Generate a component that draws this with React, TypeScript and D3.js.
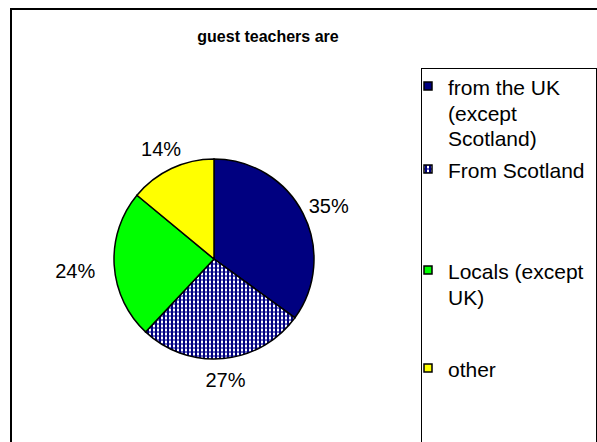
import React from "react";
import * as d3 from "d3";

const categories = ["from the UK (except Scotland)", "From Scotland", "Locals (except UK)", "other"];
const values = [35, 27, 24, 14];
const labels = ["35%", "27%", "24%", "14%"];
const legendLines = [["from the UK", "(except", "Scotland)"], ["From Scotland"], ["Locals (except", "UK)"], ["other"]];
const colors = ["#000080", "url(#chk)", "#00ff00", "#ffff00"];

// layout (not data)
const legendBaseline = [95, 178, 279, 377];
const labelNudge: [number, number][] = [[6, 2], [0, 0], [-17, 4], [-1, 0]];

export default function App() {
  const W = 597, H = 442;
  const cx = 214, cy = 259, r = 100;
  const pie = d3.pie<number>().sort(null).value((d) => d);
  const arcs = pie(values);
  const arc = d3.arc<d3.PieArcDatum<number>>().innerRadius(0).outerRadius(r);
  const labelArc = d3.arc<d3.PieArcDatum<number>>().innerRadius(r + 22).outerRadius(r + 22);
  const font = "'Liberation Sans', Arial, sans-serif";
  const fs = 21;
  return (
    <svg width={W} height={H} style={{ position: "absolute", left: 0, top: 0 }} fontFamily={font}>
      <defs>
        <pattern id="chk" width={4} height={4} patternUnits="userSpaceOnUse">
          <rect width={4} height={4} fill="#ffffff" />
          <rect x={0} y={0} width={4} height={2} fill="#7070c0" />
          <rect x={1} y={0} width={2} height={4} fill="#000080" />
        </pattern>
      </defs>
      <rect x={0} y={0} width={W} height={H} fill="#fff" />
      <rect x={11} y={9} width={W + 20} height={H + 20} fill="none" stroke="#000" strokeWidth={2} />
      <text x={268} y={42} textAnchor="middle" fontWeight="bold" fontSize={16}>guest teachers are</text>
      <g transform={`translate(${cx},${cy})`}>
        {arcs.map((a, i) => (
          <path key={i} d={arc(a) || ""} fill={colors[i]} stroke="#000" strokeWidth={1.5} />
        ))}
        {arcs.map((a, i) => {
          const [x, y] = labelArc.centroid(a);
          return (
            <text key={i} x={x + labelNudge[i][0]} y={y + labelNudge[i][1]} dy="0.35em" textAnchor="middle" fontSize={20}>{labels[i]}</text>
          );
        })}
      </g>
      <rect x={421.5} y={68.5} width={175} height={400} fill="#fff" stroke="#000" strokeWidth={1} />
      {categories.map((c, i) => (
        <g key={c}>
          <rect x={424} y={legendBaseline[i] - 13} width={8} height={8} fill={colors[i]} stroke="#000" strokeWidth={1.5} />
          {legendLines[i].map((l, j) => (
            <text key={j} x={448} y={legendBaseline[i] + j * 25.7} fontSize={fs}>{l}</text>
          ))}
        </g>
      ))}
    </svg>
  );
}
